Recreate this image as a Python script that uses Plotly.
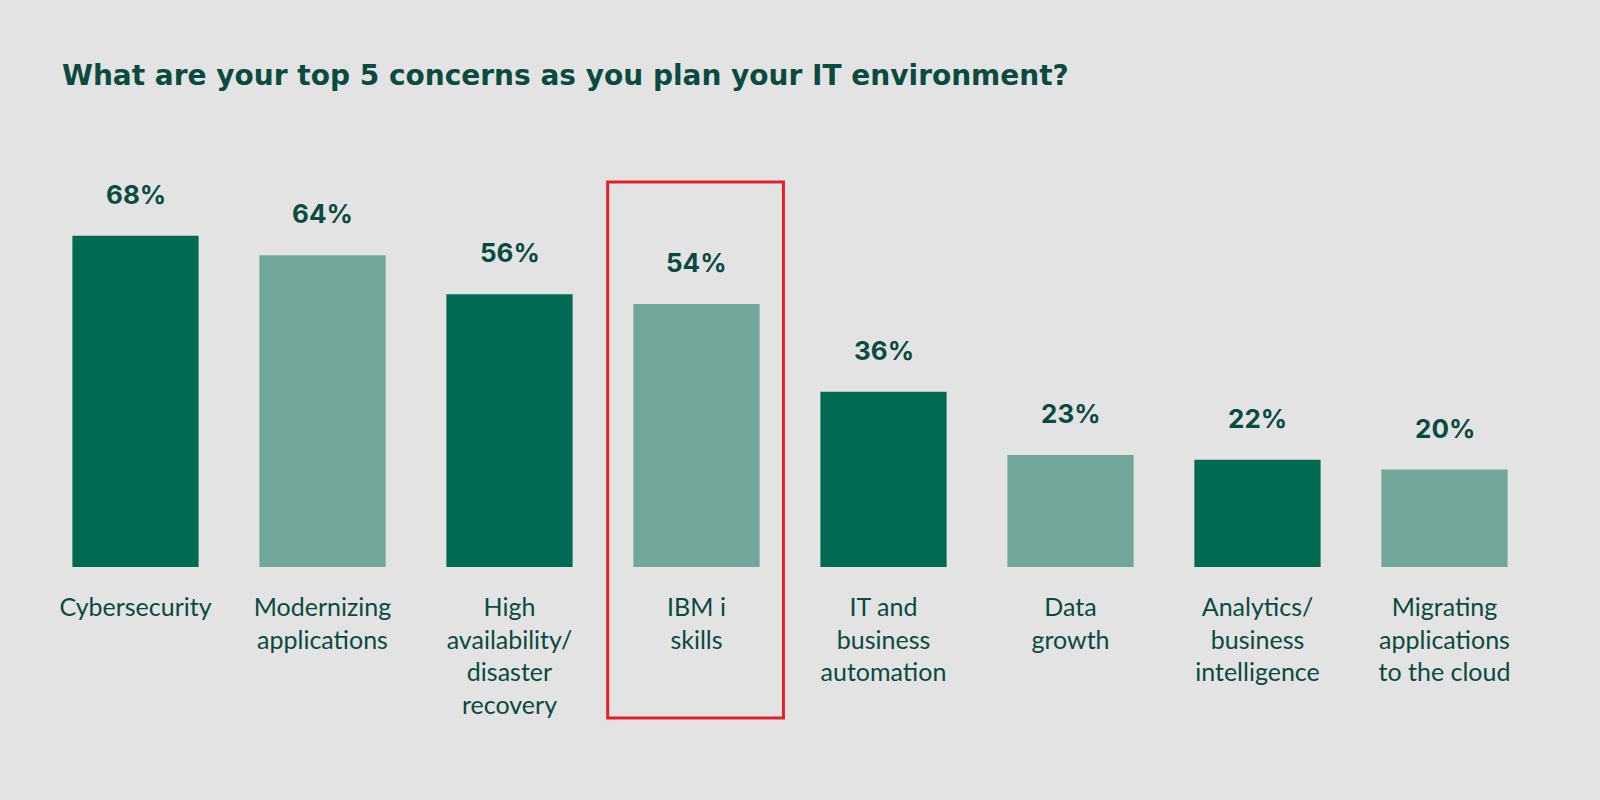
import plotly.graph_objects as go

categories = ["Cybersecurity", "Modernizing<br>applications", "High<br>availability/<br>disaster<br>recovery",
              "IBM i<br>skills", "IT and<br>business<br>automation", "Data<br>growth",
              "Analytics/<br>business<br>intelligence", "Migrating<br>applications<br>to the cloud"]
values = [68, 64, 56, 54, 36, 23, 22, 20]
highlight = 3  # IBM i skills gets the red box

DARK = "#006a52"
LIGHT = "#71a79a"
TEXT = "#0b4a3f"
BG = "#e3e3e3"

colors = [DARK if i % 2 == 0 else LIGHT for i in range(len(values))]
pos = list(range(len(values)))

fig = go.Figure(go.Bar(x=pos, y=values, marker=dict(color=colors, line=dict(width=0)),
                       width=0.675, hoverinfo="skip"))

# value labels above bars
for p, v in zip(pos, values):
    fig.add_annotation(x=p, y=v, text=f"<b>{v}%</b>", showarrow=False, yanchor="bottom",
                       yshift=24, font=dict(family="Inter", size=26, color=TEXT))

n = len(values)
fig.add_shape(type="rect", xref="paper", yref="paper",
              x0=(highlight - 0.475 + 0.5) / n, x1=(highlight + 0.465 + 0.5) / n,
              y0=-0.362, y1=0.923, line=dict(color="#e32028", width=3))

fig.update_layout(
    width=1600, height=800,
    paper_bgcolor=BG, plot_bgcolor=BG,
    margin=dict(l=42, r=62, t=150, b=233),
    title=dict(text="<b>What are your top 5 concerns as you plan your IT environment?</b>",
               x=62 / 1600, xanchor="left", xref="container", y=1 - 75 / 800, yanchor="middle",
               font=dict(family="DejaVu Sans", size=28, color=TEXT)),
    showlegend=False,
)
fig.update_xaxes(tickmode="array", tickvals=pos, ticktext=categories, range=[-0.5, n - 0.5],
                 showgrid=False, zeroline=False, showline=False,
                 tickfont=dict(family="Lato", size=25, color=TEXT), ticklabelstandoff=23, tickangle=0)
fig.update_yaxes(range=[0, 85.6], visible=False)

fig.write_html("out.html", config={"displayModeBar": False},
               post_script="document.body.style.margin='0';")
